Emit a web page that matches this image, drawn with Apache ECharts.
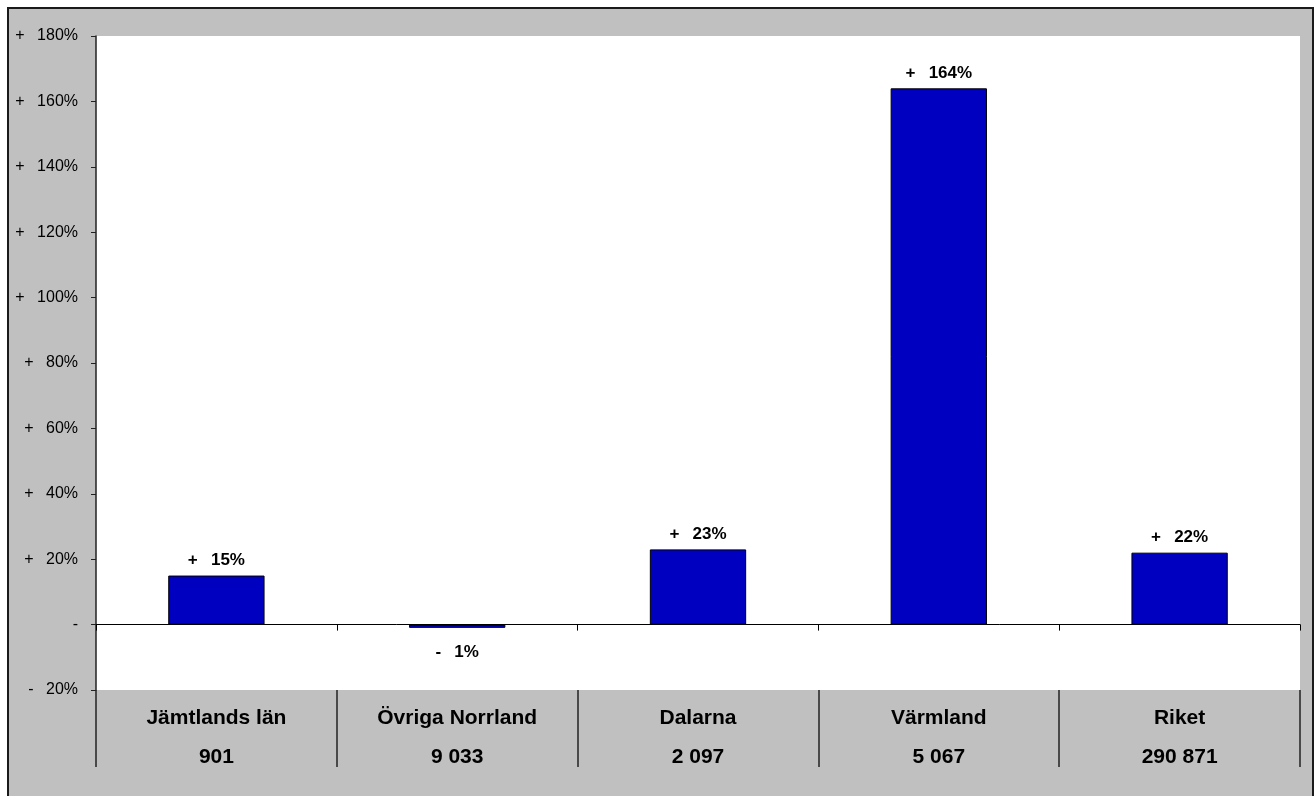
<!DOCTYPE html>
<html>
<head>
<meta charset="utf-8">
<style>
  html, body { margin: 0; padding: 0; background: #fff; }
  #container { width: 1315px; height: 796px; }
</style>
<script src="https://cdn.jsdelivr.net/npm/echarts@6/dist/echarts.min.js"></script>
</head>
<body>
<div id="container"></div>
<script>
var dom = document.getElementById('container');
var myChart = echarts.init(dom, null, { renderer: 'canvas' });

// data
var regions = ['Jämtlands län', 'Övriga Norrland', 'Dalarna', 'Värmland', 'Riket'];
var counts = ['901', '9 033', '2 097', '5 067', '290 871'];
var changes = [15, -1, 23, 164, 22];

// "+  20%", "-", "-  20%"
function pct(v) {
    if (v > 0) return '+\u2002 ' + v + '%';
    if (v < 0) return '-\u2002 ' + Math.abs(v) + '%';
    return '-';
}

var barData = changes.map(function (v) {
    return {
        value: v,
        label: { position: v < 0 ? 'bottom' : 'top', distance: v < 0 ? 16 : 7 }
    };
});

var option = {
    animation: false,
    backgroundColor: '#fff',
    textStyle: { fontFamily: 'Arial, "Liberation Sans", sans-serif' },
    graphic: [{
        type: 'rect',
        z: -10,
        shape: { x: 8, y: 8, width: 1305, height: 800 },
        style: { fill: '#c0c0c0', stroke: '#1a1a1a', lineWidth: 2 }
    }],
    grid: {
        left: 96,
        top: 36,
        width: 1204,
        height: 654,
        show: true,
        backgroundColor: '#fff',
        borderWidth: 0
    },
    xAxis: [
        {
            type: 'category',
            data: regions,
            position: 'bottom',
            axisLine: { onZero: true, lineStyle: { color: '#000', width: 1 } },
            axisTick: { show: true, length: 6, lineStyle: { color: '#000' } },
            axisLabel: { show: false },
            splitLine: { show: false }
        },
        {
            type: 'category',
            data: regions,
            position: 'bottom',
            axisLine: { show: false, onZero: false },
            axisTick: { show: true, length: 77, lineStyle: { color: '#222', width: 1.5 } },
            axisLabel: {
                margin: 9,
                color: '#000',
                fontSize: 21,
                fontWeight: 'bold',
                lineHeight: 39,
                formatter: function (v, i) { return v + '\n' + counts[i]; }
            },
            splitLine: { show: false }
        }
    ],
    yAxis: {
        type: 'value',
        min: -20,
        max: 180,
        interval: 20,
        axisLine: { show: true, lineStyle: { color: '#222', width: 1.5 } },
        axisTick: { show: true, length: 5, lineStyle: { color: '#222' } },
        axisLabel: {
            margin: 18,
            color: '#000',
            fontSize: 16,
            formatter: pct
        },
        splitLine: { show: false }
    },
    series: [{
        type: 'bar',
        xAxisIndex: 0,
        data: barData,
        barWidth: '40%',
        itemStyle: { color: '#0000c0', borderColor: '#000', borderWidth: 1 },
        label: {
            show: true,
            color: '#000',
            fontSize: 17,
            fontWeight: 'bold',
            formatter: function (p) { return pct(p.value); }
        }
    }]
};

myChart.setOption(option);
window.addEventListener('resize', myChart.resize);
</script>
</body>
</html>
